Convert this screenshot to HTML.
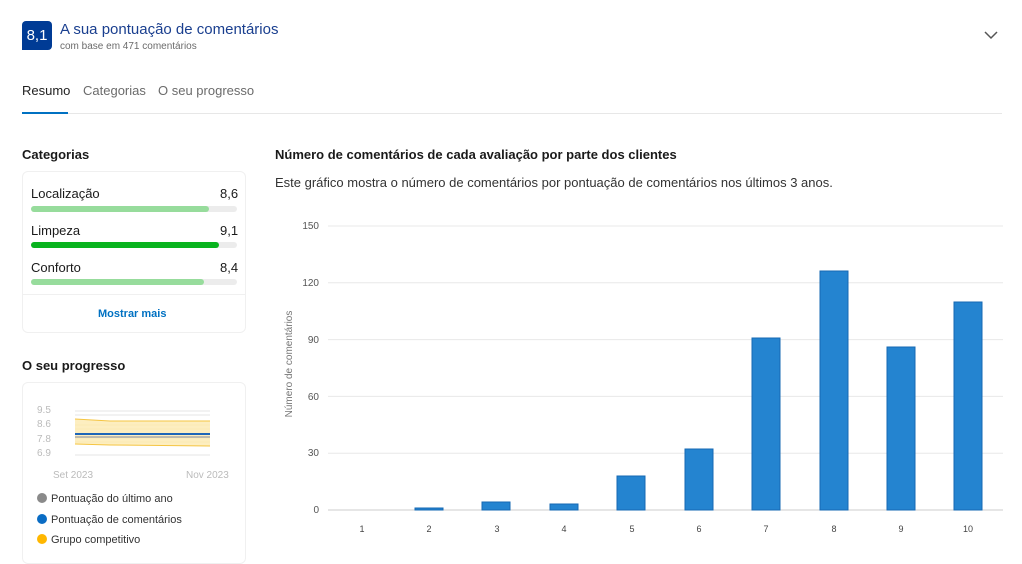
<!DOCTYPE html>
<html><head><meta charset="utf-8"><style>
body{margin:0;width:1022px;height:552px;overflow:hidden;background:#fff;font-family:"Liberation Sans",sans-serif;color:#1a1a1a;position:relative}
.a{position:absolute;white-space:nowrap}
.bar{position:absolute;height:6px;border-radius:3px;background:#ececec}
.bar i{position:absolute;left:0;top:0;bottom:0;border-radius:3px}
</style></head><body>
<div class="a" style="left:22px;top:21px;width:30px;height:29px;background:#003b95;border-radius:4px 4px 4px 0;color:#fff;font-size:15px;line-height:29px;text-align:center">8,1</div>
<div class="a" style="left:60px;top:21px;font-size:15px;color:#1a3f8f">A sua pontuação de comentários</div>
<div class="a" style="left:60px;top:41px;font-size:10px;color:#6b6b6b">com base em 471 comentários</div>
<svg class="a" style="left:984px;top:30px" width="14" height="10"><path d="M1 2 L7 8 L13 2" stroke="#555" stroke-width="1.5" fill="none"/></svg>
<div class="a" style="left:22px;top:83px;font-size:13px;color:#222">Resumo</div>
<div class="a" style="left:83px;top:83px;font-size:13px;color:#6b6b6b">Categorias</div>
<div class="a" style="left:158px;top:83px;font-size:13px;color:#6b6b6b">O seu progresso</div>
<div class="a" style="left:22px;top:113px;width:980px;height:1px;background:#e7e7e7"></div>
<div class="a" style="left:22px;top:112px;width:46px;height:2px;background:#0071c2"></div>

<div class="a" style="left:22px;top:147px;font-size:13px;font-weight:bold">Categorias</div>
<div class="a" style="left:22px;top:171px;width:222px;height:160px;border:1px solid #f0f0f0;border-radius:6px"></div>
<div class="a" style="left:31px;top:186px;font-size:13px">Localização</div><div class="a" style="left:220px;top:186px;font-size:13px">8,6</div>
<div class="bar" style="left:31px;top:206px;width:206px"><i style="width:178px;background:#97dc9c"></i></div>
<div class="a" style="left:31px;top:223px;font-size:13px">Limpeza</div><div class="a" style="left:220px;top:223px;font-size:13px">9,1</div>
<div class="bar" style="left:31px;top:242px;width:206px"><i style="width:188px;background:#08b31e"></i></div>
<div class="a" style="left:31px;top:260px;font-size:13px">Conforto</div><div class="a" style="left:220px;top:260px;font-size:13px">8,4</div>
<div class="bar" style="left:31px;top:279px;width:206px"><i style="width:173px;background:#97dc9c"></i></div>
<div class="a" style="left:22px;top:294px;width:224px;height:1px;background:#f0f0f0"></div>
<div class="a" style="left:98px;top:308px;font-size:11px;font-weight:bold;color:#0071c2">Mostrar mais</div>

<div class="a" style="left:22px;top:358px;font-size:13px;font-weight:bold">O seu progresso</div>
<div class="a" style="left:22px;top:382px;width:222px;height:180px;border:1px solid #f0f0f0;border-radius:6px"></div>
<svg class="a" style="left:0;top:370px" width="260" height="182" font-family="Liberation Sans" font-size="10" fill="#bbb">
<text x="37" y="43">9.5</text><text x="37" y="57">8.6</text><text x="37" y="72">7.8</text><text x="37" y="86">6.9</text>
<g stroke="#e6e6e6"><line x1="75" x2="210" y1="41" y2="41"/><line x1="75" x2="210" y1="45" y2="45"/><line x1="75" x2="210" y1="85" y2="85"/></g>
<path d="M75 49 L110 51 L210 51 L210 76 L110 75 L75 74 Z" fill="#fdeec0"/>
<g stroke="#f7e3a6" stroke-width="0.6"><line x1="75" x2="210" y1="55" y2="55"/><line x1="75" x2="210" y1="59" y2="59"/><line x1="75" x2="210" y1="68" y2="68"/><line x1="75" x2="210" y1="72" y2="72"/></g>
<path d="M75 49 L110 51 L210 51" stroke="#f5c542" fill="none"/><path d="M75 74 L110 75 L210 76" stroke="#f5c542" fill="none"/>
<line x1="75" x2="210" y1="67" y2="67" stroke="#aaa" stroke-width="1.5"/>
<line x1="75" x2="210" y1="64" y2="64" stroke="#1f66b8" stroke-width="2"/>
<text x="53" y="108">Set 2023</text><text x="186" y="108">Nov 2023</text>
<g font-size="11" fill="#333"><circle cx="42" cy="128" r="5" fill="#8a8a8a"/><text x="51" y="132">Pontuação do último ano</text>
<circle cx="42" cy="149" r="5" fill="#0a6cc4"/><text x="51" y="153">Pontuação de comentários</text>
<circle cx="42" cy="169" r="5" fill="#ffb700"/><text x="51" y="173">Grupo competitivo</text></g>
</svg>

<div class="a" style="left:275px;top:147px;font-size:13px;font-weight:bold">Número de comentários de cada avaliação por parte dos clientes</div>
<div class="a" style="left:275px;top:175px;font-size:13px;color:#333">Este gráfico mostra o número de comentários por pontuação de comentários nos últimos 3 anos.</div>
<svg class="a" style="left:0;top:0" width="1022" height="552" font-family="Liberation Sans" font-size="10" fill="#555">
<g stroke="#e8e8e8"><line x1="328" x2="1003" y1="226" y2="226"/><line x1="328" x2="1003" y1="282.8" y2="282.8"/><line x1="328" x2="1003" y1="339.6" y2="339.6"/><line x1="328" x2="1003" y1="396.4" y2="396.4"/><line x1="328" x2="1003" y1="453.2" y2="453.2"/><line x1="328" x2="1003" y1="510" y2="510" stroke="#ccc"/></g>
<g text-anchor="end"><text x="319" y="229">150</text><text x="319" y="286">120</text><text x="319" y="343">90</text><text x="319" y="400">60</text><text x="319" y="456">30</text><text x="319" y="513">0</text></g>
<text transform="translate(292,364) rotate(-90)" text-anchor="middle" fill="#777">Número de comentários</text>
<g fill="#2484d0" stroke="#1668b3" stroke-width="1">
<rect x="415" y="508" width="28" height="2"/><rect x="482" y="502" width="28" height="8"/><rect x="550" y="504" width="28" height="6"/>
<rect x="617" y="476" width="28" height="34"/><rect x="685" y="449" width="28" height="61"/><rect x="752" y="338" width="28" height="172"/>
<rect x="820" y="271" width="28" height="239"/><rect x="887" y="347" width="28" height="163"/><rect x="954" y="302" width="28" height="208"/></g>
<g text-anchor="middle" font-size="9" fill="#444"><text x="362" y="532">1</text><text x="429" y="532">2</text><text x="497" y="532">3</text><text x="564" y="532">4</text><text x="632" y="532">5</text><text x="699" y="532">6</text><text x="766" y="532">7</text><text x="834" y="532">8</text><text x="901" y="532">9</text><text x="968" y="532">10</text></g>
</svg>
</body></html>
